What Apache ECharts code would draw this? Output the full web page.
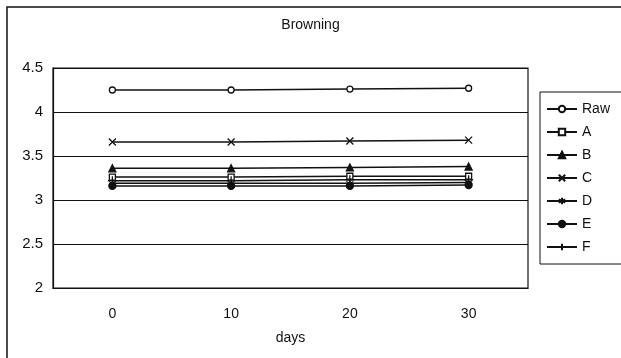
<!DOCTYPE html>
<html><head><meta charset="utf-8">
<script src="https://cdn.jsdelivr.net/npm/echarts@6/dist/echarts.min.js"></script>
<style>html,body{margin:0;padding:0;background:#fff}#c{width:621px;height:358px}</style>
</head><body><div id="c"></div>
<script>
const days = ['0', '10', '20', '30'];
const raw = [4.25, 4.25, 4.26, 4.27];
const sA = [3.26, 3.26, 3.27, 3.27];
const sB = [3.36, 3.36, 3.37, 3.38];
const sC = [3.66, 3.66, 3.67, 3.68];
const sD = [3.19, 3.19, 3.19, 3.2];
const sE = [3.16, 3.16, 3.16, 3.17];
const sF = [3.22, 3.22, 3.23, 3.23];
const yTicks = [2, 2.5, 3, 3.5, 4, 4.5];

const FONT = '"Liberation Sans", Arial, sans-serif';
const crossPath = 'path://M0,0L10,10M10,0L0,10';
const starPath = 'path://M5,0L5,10M0,2.5L10,7.5M10,2.5L0,7.5';
const plusPath = 'path://M5,0L5,10M0,5L10,5';

function mk(name, data, symbol, size, filled) {
  return {
    name, type: 'line', data, symbol, symbolSize: size,
    showSymbol: true,
    lineStyle: {color: '#111', width: 1.5},
    itemStyle: {color: filled ? '#111' : '#fff', borderColor: '#111', borderWidth: 1.3},
    emphasis: {disabled: true}
  };
}

const chart = echarts.init(document.getElementById('c'));
chart.setOption({
  animation: false,
  title: {text: 'Browning', left: 'center', top: 13, textStyle: {fontFamily: FONT, fontSize: 14, fontWeight: 'normal', color: '#111'}},
  graphic: [{type: 'rect', shape: {x: 7, y: 7, width: 700, height: 400}, style: {fill: 'none', stroke: '#111', lineWidth: 1.5}, silent: true, z: 0}],
  grid: {left: 53, top: 68, width: 475, height: 220, show: true, borderColor: '#111', borderWidth: 1.2, backgroundColor: 'transparent'},
  legend: {
    orient: 'vertical', left: 540, top: 92, itemGap: 9, itemWidth: 30, itemHeight: 8,
    borderColor: '#111', borderWidth: 1, padding: [10, 30, 10, 6],
    textStyle: {fontFamily: FONT, fontSize: 14, color: '#111'},
    data: ['Raw', 'A', 'B', 'C', 'D', 'E', 'F']
  },
  xAxis: {
    type: 'category', data: days, boundaryGap: true, name: 'days', nameLocation: 'middle', nameGap: 43,
    nameTextStyle: {fontFamily: FONT, fontSize: 14, color: '#111'},
    axisLine: {lineStyle: {color: '#111', width: 1.2}},
    axisTick: {inside: true, length: 4, lineStyle: {color: '#111'}},
    axisLabel: {fontFamily: FONT, fontSize: 14, color: '#111', margin: 19}
  },
  yAxis: {
    type: 'value', min: 2, max: 4.5, interval: 0.5,
    axisLine: {show: true, lineStyle: {color: '#111', width: 1.2}},
    axisTick: {show: false},
    splitLine: {lineStyle: {color: '#111', width: 1}},
    axisLabel: {fontFamily: FONT, fontSize: 15, color: '#111', margin: 10,
      formatter: v => yTicks.includes(v) ? String(v) : ''}
  },
  series: [
    mk('Raw', raw, 'circle', 6, false),
    mk('A', sA, 'rect', 6, false),
    mk('B', sB, 'triangle', 7, true),
    mk('C', sC, crossPath, 7, false),
    mk('D', sD, starPath, 7, false),
    mk('E', sE, 'circle', 7, true),
    mk('F', sF, plusPath, 9, false)
  ]
});
</script></body></html>
